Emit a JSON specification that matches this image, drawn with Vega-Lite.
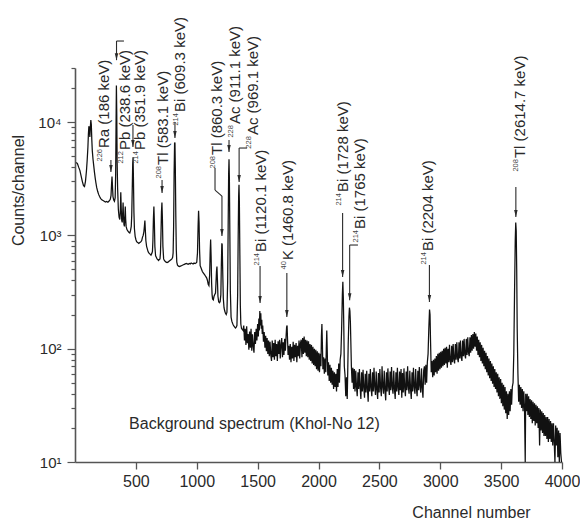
{
  "$schema": "https://vega.github.io/schema/vega-lite/v6.json",
  "autosize": {"type": "none"},
  "padding": {"left": 75, "top": 68, "right": 18, "bottom": 57},
  "width": 487,
  "height": 394,
  "background": "white",
  "config": {
    "view": {"stroke": null},
    "font": "Liberation Sans",
    "text": {"font": "Liberation Sans", "color": "#2a2a2a"}
  },
  "datasets": {
    "spec": [
      {"c":10,"n":4400},{"c":20,"n":4300},{"c":30,"n":4000},{"c":40,"n":3750},{"c":50,"n":3350},{"c":60,"n":3000},{"c":70,"n":2750},{"c":78,"n":2700},{"c":86,"n":3000},{"c":94,"n":3700},{"c":100,"n":4600},{"c":106,"n":6000},{"c":110,"n":7800},{"c":114,"n":9200},{"c":118,"n":8600},{"c":122,"n":7400},{"c":126,"n":9000},{"c":130,"n":10400},{"c":134,"n":9500},{"c":138,"n":7000},{"c":142,"n":5600},{"c":148,"n":4700},{"c":154,"n":4100},{"c":160,"n":3600},{"c":166,"n":3200},{"c":172,"n":2900},{"c":178,"n":2650},{"c":186,"n":2450},{"c":194,"n":2300},{"c":202,"n":2200},{"c":210,"n":2120},{"c":220,"n":2060},{"c":230,"n":2030},{"c":240,"n":2000},{"c":250,"n":1970},{"c":260,"n":1990},{"c":270,"n":1960},{"c":280,"n":2010},{"c":290,"n":2080},{"c":296,"n":2250},{"c":300,"n":2800},{"c":304,"n":3300},{"c":308,"n":2700},{"c":312,"n":2200},{"c":318,"n":2050},{"c":324,"n":2000},{"c":330,"n":2150},{"c":334,"n":3500},{"c":337,"n":9000},{"c":340,"n":21000},{"c":343,"n":12000},{"c":346,"n":4500},{"c":350,"n":2600},{"c":356,"n":1700},{"c":362,"n":1450},{"c":368,"n":1380},{"c":372,"n":1600},{"c":376,"n":2400},{"c":380,"n":1700},{"c":384,"n":1350},{"c":388,"n":1300},{"c":392,"n":1600},{"c":395,"n":1950},{"c":398,"n":1500},{"c":402,"n":1250},{"c":406,"n":1200},{"c":410,"n":1500},{"c":413,"n":1800},{"c":416,"n":1400},{"c":420,"n":1200},{"c":426,"n":1130},{"c":432,"n":1100},{"c":438,"n":1080},{"c":444,"n":1060},{"c":450,"n":1050},{"c":456,"n":1100},{"c":462,"n":1200},{"c":466,"n":1500},{"c":470,"n":2500},{"c":474,"n":4300},{"c":477,"n":4900},{"c":480,"n":3200},{"c":484,"n":1600},{"c":488,"n":1150},{"c":494,"n":980},{"c":500,"n":920},{"c":506,"n":880},{"c":512,"n":870},{"c":518,"n":860},{"c":524,"n":850},{"c":530,"n":860},{"c":536,"n":870},{"c":542,"n":880},{"c":548,"n":900},{"c":554,"n":960},{"c":560,"n":1000},{"c":566,"n":1080},{"c":570,"n":1200},{"c":574,"n":1350},{"c":578,"n":1100},{"c":582,"n":900},{"c":588,"n":800},{"c":594,"n":760},{"c":600,"n":720},{"c":606,"n":700},{"c":612,"n":690},{"c":618,"n":680},{"c":624,"n":670},{"c":630,"n":690},{"c":636,"n":720},{"c":640,"n":900},{"c":644,"n":1400},{"c":648,"n":1800},{"c":652,"n":1300},{"c":656,"n":800},{"c":662,"n":660},{"c":668,"n":640},{"c":674,"n":620},{"c":680,"n":610},{"c":686,"n":600},{"c":692,"n":610},{"c":698,"n":620},{"c":702,"n":700},{"c":706,"n":1000},{"c":710,"n":1600},{"c":714,"n":1950},{"c":718,"n":1400},{"c":722,"n":800},{"c":728,"n":620},{"c":734,"n":600},{"c":740,"n":590},{"c":748,"n":580},{"c":756,"n":575},{"c":764,"n":580},{"c":772,"n":590},{"c":780,"n":600},{"c":788,"n":610},{"c":796,"n":620},{"c":802,"n":640},{"c":806,"n":700},{"c":810,"n":1200},{"c":814,"n":3500},{"c":818,"n":6500},{"c":821,"n":6600},{"c":824,"n":4000},{"c":828,"n":1500},{"c":832,"n":750},{"c":836,"n":580},{"c":842,"n":545},{"c":850,"n":535},{"c":858,"n":530},{"c":866,"n":535},{"c":874,"n":540},{"c":882,"n":545},{"c":890,"n":550},{"c":898,"n":555},{"c":906,"n":560},{"c":914,"n":565},{"c":922,"n":560},{"c":930,"n":555},{"c":938,"n":565},{"c":946,"n":560},{"c":954,"n":570},{"c":962,"n":565},{"c":970,"n":560},{"c":978,"n":570},{"c":986,"n":565},{"c":994,"n":570},{"c":1000,"n":580},{"c":1006,"n":700},{"c":1011,"n":1200},{"c":1015,"n":1650},{"c":1019,"n":1300},{"c":1023,"n":750},{"c":1028,"n":540},{"c":1034,"n":520},{"c":1040,"n":500},{"c":1046,"n":480},{"c":1052,"n":470},{"c":1058,"n":460},{"c":1064,"n":450},{"c":1070,"n":440},{"c":1076,"n":430},{"c":1082,"n":420},{"c":1088,"n":400},{"c":1094,"n":370},{"c":1100,"n":360},{"c":1106,"n":450},{"c":1110,"n":700},{"c":1114,"n":920},{"c":1118,"n":650},{"c":1122,"n":380},{"c":1126,"n":300},{"c":1130,"n":275},{"c":1136,"n":270},{"c":1142,"n":290},{"c":1148,"n":300},{"c":1154,"n":310},{"c":1158,"n":380},{"c":1162,"n":480},{"c":1166,"n":530},{"c":1170,"n":400},{"c":1174,"n":290},{"c":1180,"n":260},{"c":1186,"n":255},{"c":1192,"n":260},{"c":1198,"n":300},{"c":1202,"n":550},{"c":1206,"n":850},{"c":1209,"n":830},{"c":1213,"n":500},{"c":1218,"n":280},{"c":1224,"n":230},{"c":1230,"n":215},{"c":1236,"n":205},{"c":1242,"n":200},{"c":1248,"n":210},{"c":1254,"n":400},{"c":1258,"n":1200},{"c":1262,"n":3500},{"c":1265,"n":4700},{"c":1268,"n":3200},{"c":1272,"n":1000},{"c":1276,"n":320},{"c":1282,"n":190},{"c":1288,"n":175},{"c":1294,"n":168},{"c":1300,"n":162},{"c":1306,"n":158},{"c":1312,"n":155},{"c":1318,"n":152},{"c":1324,"n":155},{"c":1330,"n":160},{"c":1336,"n":300},{"c":1340,"n":900},{"c":1344,"n":2200},{"c":1347,"n":2800},{"c":1350,"n":2000},{"c":1354,"n":700},{"c":1358,"n":240},{"c":1362,"n":165},{"c":1368,"n":150},{"c":1374,"n":148},{"c":1380,"n":145},
      {"c":1386,"n":160},{"c":1392,"n":118},{"c":1398,"n":150},{"c":1404,"n":108},{"c":1410,"n":158},{"c":1416,"n":112},{"c":1422,"n":135},{"c":1428,"n":98},{"c":1434,"n":142},{"c":1440,"n":102},{"c":1446,"n":150},{"c":1452,"n":96},{"c":1458,"n":134},{"c":1464,"n":105},{"c":1470,"n":92},{"c":1476,"n":140},{"c":1482,"n":110},{"c":1488,"n":150},{"c":1494,"n":118},{"c":1500,"n":165},{"c":1506,"n":128},{"c":1510,"n":185},{"c":1514,"n":145},{"c":1518,"n":215},{"c":1522,"n":160},{"c":1526,"n":205},{"c":1530,"n":150},{"c":1534,"n":180},{"c":1538,"n":135},{"c":1542,"n":160},{"c":1548,"n":115},{"c":1554,"n":140},{"c":1560,"n":102},{"c":1566,"n":130},{"c":1572,"n":95},{"c":1578,"n":124},{"c":1584,"n":90},{"c":1590,"n":118},{"c":1596,"n":86},{"c":1602,"n":115},{"c":1608,"n":88},{"c":1614,"n":78},{"c":1620,"n":118},{"c":1626,"n":84},{"c":1632,"n":112},{"c":1638,"n":80},{"c":1644,"n":120},{"c":1650,"n":86},{"c":1656,"n":110},{"c":1662,"n":78},{"c":1668,"n":116},{"c":1674,"n":90},{"c":1680,"n":120},{"c":1686,"n":82},{"c":1692,"n":108},{"c":1698,"n":124},{"c":1704,"n":84},{"c":1710,"n":114},{"c":1716,"n":88},{"c":1722,"n":122},{"c":1728,"n":96},{"c":1734,"n":130},{"c":1738,"n":155},{"c":1742,"n":160},{"c":1746,"n":118},{"c":1750,"n":88},{"c":1756,"n":106},{"c":1762,"n":80},{"c":1768,"n":110},{"c":1774,"n":76},{"c":1780,"n":104},{"c":1786,"n":82},{"c":1792,"n":115},{"c":1798,"n":78},{"c":1804,"n":108},{"c":1810,"n":84},{"c":1816,"n":112},{"c":1822,"n":76},{"c":1828,"n":106},{"c":1834,"n":86},{"c":1840,"n":118},{"c":1846,"n":82},{"c":1852,"n":112},{"c":1858,"n":120},{"c":1864,"n":84},{"c":1870,"n":124},{"c":1876,"n":90},{"c":1882,"n":128},{"c":1888,"n":92},{"c":1894,"n":120},{"c":1900,"n":86},{"c":1906,"n":118},{"c":1912,"n":84},{"c":1918,"n":116},{"c":1924,"n":80},{"c":1930,"n":110},{"c":1936,"n":78},{"c":1942,"n":108},{"c":1948,"n":74},{"c":1954,"n":104},{"c":1960,"n":72},{"c":1966,"n":100},{"c":1972,"n":70},{"c":1978,"n":98},{"c":1984,"n":66},{"c":1990,"n":95},{"c":1996,"n":64},{"c":2002,"n":92},{"c":2008,"n":62},{"c":2014,"n":90},{"c":2020,"n":70},{"c":2024,"n":130},{"c":2028,"n":165},{"c":2032,"n":110},{"c":2036,"n":66},{"c":2042,"n":84},{"c":2048,"n":60},{"c":2054,"n":82},{"c":2060,"n":62},{"c":2064,"n":100},{"c":2068,"n":145},{"c":2072,"n":95},{"c":2076,"n":58},{"c":2082,"n":76},{"c":2088,"n":52},{"c":2094,"n":72},{"c":2100,"n":50},{"c":2106,"n":68},{"c":2112,"n":48},{"c":2118,"n":64},{"c":2124,"n":44},{"c":2130,"n":62},{"c":2136,"n":46},{"c":2142,"n":60},{"c":2148,"n":42},{"c":2154,"n":66},{"c":2160,"n":46},{"c":2166,"n":74},{"c":2172,"n":50},{"c":2178,"n":80},{"c":2184,"n":90},{"c":2190,"n":150},{"c":2196,"n":300},{"c":2200,"n":390},{"c":2204,"n":280},{"c":2208,"n":150},{"c":2212,"n":70},{"c":2218,"n":58},{"c":2224,"n":38},{"c":2230,"n":56},{"c":2236,"n":36},{"c":2240,"n":62},{"c":2244,"n":110},{"c":2250,"n":190},{"c":2254,"n":230},{"c":2258,"n":215},{"c":2262,"n":170},{"c":2266,"n":110},{"c":2270,"n":70},{"c":2276,"n":50},{"c":2282,"n":68},{"c":2288,"n":44},{"c":2294,"n":66},{"c":2300,"n":42},{"c":2306,"n":64},{"c":2312,"n":46},{"c":2318,"n":38},{"c":2324,"n":62},{"c":2330,"n":44},{"c":2336,"n":66},{"c":2342,"n":46},{"c":2348,"n":36},{"c":2354,"n":62},{"c":2360,"n":42},{"c":2366,"n":65},{"c":2372,"n":45},{"c":2378,"n":37},{"c":2384,"n":60},{"c":2390,"n":41},{"c":2396,"n":64},{"c":2402,"n":44},{"c":2408,"n":34},{"c":2414,"n":60},{"c":2420,"n":42},{"c":2426,"n":66},{"c":2432,"n":45},{"c":2438,"n":38},{"c":2444,"n":62},{"c":2450,"n":42},{"c":2456,"n":68},{"c":2462,"n":46},{"c":2468,"n":39},{"c":2474,"n":63},{"c":2480,"n":43},{"c":2486,"n":36},{"c":2492,"n":61},{"c":2498,"n":41},{"c":2504,"n":66},{"c":2510,"n":45},{"c":2516,"n":38},{"c":2522,"n":70},{"c":2528,"n":46},{"c":2534,"n":40},{"c":2540,"n":64},{"c":2546,"n":43},{"c":2552,"n":35},{"c":2558,"n":62},{"c":2564,"n":42},{"c":2570,"n":67},{"c":2576,"n":46},{"c":2582,"n":39},{"c":2588,"n":63},{"c":2594,"n":43},{"c":2600,"n":69},{"c":2606,"n":46},{"c":2612,"n":40},{"c":2618,"n":64},{"c":2624,"n":44},{"c":2630,"n":36},{"c":2636,"n":62},{"c":2642,"n":42},{"c":2648,"n":68},{"c":2654,"n":45},{"c":2660,"n":39},{"c":2666,"n":63},{"c":2672,"n":43},{"c":2678,"n":66},{"c":2684,"n":37},{"c":2690,"n":61},{"c":2696,"n":41},{"c":2702,"n":67},{"c":2708,"n":45},{"c":2714,"n":38},{"c":2720,"n":63},{"c":2726,"n":43},{"c":2732,"n":70},{"c":2738,"n":46},{"c":2744,"n":40},{"c":2750,"n":64},{"c":2756,"n":44},{"c":2762,"n":36},{"c":2768,"n":62},{"c":2774,"n":42},{"c":2780,"n":68},{"c":2786,"n":46},{"c":2792,"n":40},{"c":2798,"n":66},{"c":2804,"n":45},{"c":2810,"n":38},{"c":2816,"n":64},{"c":2822,"n":43},{"c":2828,"n":69},{"c":2834,"n":47},{"c":2840,"n":41},{"c":2846,"n":67},{"c":2852,"n":45},{"c":2858,"n":37},{"c":2864,"n":64},{"c":2870,"n":70},{"c":2876,"n":48},{"c":2882,"n":72},{"c":2888,"n":50},{"c":2894,"n":76},{"c":2900,"n":90},{"c":2906,"n":150},{"c":2912,"n":222},{"c":2916,"n":200},{"c":2920,"n":120},{"c":2926,"n":62},{"c":2932,"n":78},{"c":2938,"n":56},{"c":2944,"n":80},{"c":2950,"n":58},{"c":2956,"n":82},{"c":2962,"n":62},{"c":2968,"n":86},{"c":2974,"n":60},{"c":2980,"n":90},{"c":2986,"n":64},{"c":2992,"n":92},{"c":2998,"n":66},{"c":3004,"n":94},{"c":3010,"n":68},{"c":3016,"n":96},{"c":3022,"n":70},{"c":3028,"n":100},{"c":3034,"n":72},{"c":3040,"n":102},{"c":3046,"n":74},{"c":3052,"n":104},{"c":3058,"n":68},{"c":3064,"n":100},{"c":3070,"n":76},{"c":3076,"n":108},{"c":3082,"n":78},{"c":3088,"n":72},{"c":3094,"n":106},{"c":3100,"n":76},{"c":3106,"n":110},{"c":3112,"n":80},{"c":3118,"n":74},{"c":3124,"n":110},{"c":3130,"n":80},{"c":3136,"n":114},{"c":3142,"n":82},{"c":3148,"n":76},{"c":3154,"n":114},{"c":3160,"n":82},{"c":3166,"n":118},{"c":3172,"n":84},{"c":3178,"n":78},{"c":3184,"n":118},{"c":3190,"n":86},{"c":3196,"n":122},{"c":3202,"n":88},{"c":3208,"n":82},{"c":3214,"n":122},{"c":3220,"n":88},{"c":3226,"n":126},{"c":3232,"n":92},{"c":3238,"n":86},{"c":3244,"n":126},{"c":3250,"n":92},{"c":3256,"n":132},{"c":3262,"n":96},{"c":3268,"n":135},{"c":3274,"n":100},{"c":3280,"n":140},{"c":3286,"n":104},{"c":3292,"n":136},{"c":3298,"n":96},{"c":3304,"n":128},{"c":3310,"n":88},{"c":3316,"n":120},{"c":3322,"n":84},{"c":3328,"n":114},{"c":3334,"n":78},{"c":3340,"n":108},{"c":3346,"n":74},{"c":3352,"n":102},{"c":3358,"n":70},{"c":3364,"n":96},{"c":3370,"n":66},{"c":3376,"n":92},{"c":3382,"n":62},{"c":3388,"n":86},{"c":3394,"n":58},{"c":3400,"n":82},{"c":3406,"n":55},{"c":3412,"n":78},{"c":3418,"n":52},{"c":3424,"n":74},{"c":3430,"n":49},{"c":3436,"n":70},{"c":3442,"n":46},{"c":3448,"n":66},{"c":3454,"n":44},{"c":3460,"n":62},{"c":3466,"n":41},{"c":3472,"n":60},{"c":3478,"n":38},{"c":3484,"n":56},{"c":3490,"n":36},{"c":3496,"n":54},{"c":3502,"n":33},{"c":3508,"n":50},{"c":3514,"n":31},{"c":3520,"n":48},{"c":3526,"n":29},{"c":3532,"n":46},{"c":3538,"n":27},{"c":3544,"n":42},{"c":3550,"n":24},{"c":3556,"n":40},{"c":3562,"n":26},{"c":3568,"n":42},{"c":3574,"n":28},{"c":3580,"n":44},{"c":3586,"n":32},{"c":3592,"n":46},{"c":3598,"n":50},{"c":3604,"n":90},{"c":3610,"n":300},{"c":3616,"n":900},{"c":3620,"n":1300},{"c":3624,"n":1100},{"c":3628,"n":500},{"c":3632,"n":150},{"c":3638,"n":60},{"c":3644,"n":34},{"c":3650,"n":48},{"c":3656,"n":32},{"c":3662,"n":46},{"c":3668,"n":30},{"c":3674,"n":44},{"c":3680,"n":28},{"c":3686,"n":42},{"c":3692,"n":30},{"c":3698,"n":10},{"c":3702,"n":40},{"c":3708,"n":28},{"c":3714,"n":40},{"c":3720,"n":26},{"c":3726,"n":38},{"c":3732,"n":25},{"c":3738,"n":36},{"c":3744,"n":24},{"c":3750,"n":35},{"c":3756,"n":22},{"c":3762,"n":34},{"c":3768,"n":23},{"c":3774,"n":33},{"c":3780,"n":21},{"c":3786,"n":32},{"c":3792,"n":22},{"c":3798,"n":31},{"c":3804,"n":20},{"c":3810,"n":30},{"c":3816,"n":14},{"c":3822,"n":29},{"c":3828,"n":19},{"c":3834,"n":28},{"c":3840,"n":18},{"c":3846,"n":27},{"c":3852,"n":17},{"c":3858,"n":26},{"c":3864,"n":17},{"c":3870,"n":25},{"c":3876,"n":16},{"c":3882,"n":25},{"c":3888,"n":15},{"c":3894,"n":24},{"c":3900,"n":16},{"c":3906,"n":23},{"c":3912,"n":15},{"c":3918,"n":22},{"c":3924,"n":14},{"c":3930,"n":22},{"c":3936,"n":15},{"c":3942,"n":10},{"c":3948,"n":21},{"c":3954,"n":14},{"c":3960,"n":20},{"c":3966,"n":11},{"c":3972,"n":19},{"c":3978,"n":10},{"c":3984,"n":18},{"c":3990,"n":12},{"c":3996,"n":10}
    ],
    "labels": [
      {"c":238,"n":5900,"iso":"226","el":"Ra (186 keV)"},
      {"c":411,"n":5660,"iso":"212","el":"Pb (238.6 keV)"},
      {"c":534,"n":5660,"iso":"214","el":"Pb (351.9 keV)"},
      {"c":723,"n":4180,"iso":"208","el":"Tl (583.1 keV)"},
      {"c":862,"n":12250,"iso":"214","el":"Bi (609.3 keV)"},
      {"c":1166,"n":5120,"iso":"208","el":"Tl (860.3 keV)"},
      {"c":1314,"n":9600,"iso":"228","el":"Ac (911.1 keV)"},
      {"c":1462,"n":7670,"iso":"228","el":"Ac (969.1 keV)"},
      {"c":1528,"n":713,"iso":"214","el":"Bi (1120.1 keV)"},
      {"c":1750,"n":605,"iso":"40","el":"K (1460.8 keV)"},
      {"c":2201,"n":2410,"iso":"214","el":"Bi (1728 keV)"},
      {"c":2341,"n":1138,"iso":"214","el":"Bi (1765 keV)"},
      {"c":2899,"n":727,"iso":"214","el":"Bi (2204 keV)"},
      {"c":3655,"n":4810,"iso":"208","el":"Tl (2614.7 keV)"}
    ],
    "segs": [
      {"c":295,"n":4620,"c2":295,"n2":3620},
      {"c":402,"n":51900,"c2":341,"n2":51900},
      {"c":341,"n":51900,"c2":341,"n2":35200},
      {"c":476,"n":9420,"c2":476,"n2":6010},
      {"c":715,"n":3080,"c2":715,"n2":2370},
      {"c":821,"n":10000,"c2":821,"n2":7230},
      {"c":1150,"n":3930,"c2":1150,"n2":2512},
      {"c":1150,"n":2512,"c2":1207,"n2":2222},
      {"c":1207,"n":2222,"c2":1207,"n2":986},
      {"c":1265,"n":6940,"c2":1265,"n2":5430},
      {"c":1413,"n":5900,"c2":1348,"n2":5900},
      {"c":1348,"n":5900,"c2":1348,"n2":2960},
      {"c":1520,"n":536,"c2":1520,"n2":253},
      {"c":1740,"n":466,"c2":1740,"n2":190},
      {"c":2198,"n":1574,"c2":2198,"n2":429},
      {"c":2324,"n":822,"c2":2256,"n2":822},
      {"c":2256,"n":822,"c2":2256,"n2":268},
      {"c":2911,"n":547,"c2":2911,"n2":258},
      {"c":3621,"n":2670,"c2":3621,"n2":1452}
    ],
    "tips": [
      {"c":295,"n":3620},{"c":341,"n":35200},{"c":476,"n":6010},{"c":715,"n":2370},
      {"c":821,"n":7230},{"c":1207,"n":986},{"c":1265,"n":5430},{"c":1348,"n":2960},
      {"c":1520,"n":253},{"c":1740,"n":190},{"c":2198,"n":429},{"c":2256,"n":268},
      {"c":2911,"n":258},{"c":3621,"n":1452}
    ],
    "note": [{"c":1474,"n":21.6,"t":"Background spectrum (Khol-No 12)"}]
  },
  "encoding": {
    "x": {
      "field": "c", "type": "quantitative",
      "scale": {"domain": [0, 4000], "nice": false, "zero": false},
      "axis": {
        "values": [500, 1000, 1500, 2000, 2500, 3000, 3500, 4000],
        "format": "d",
        "grid": false,
        "domainColor": "#555", "domainWidth": 1.6,
        "tickColor": "#555", "tickWidth": 1.3, "tickSize": 7,
        "labelFont": "Liberation Sans", "labelFontSize": 16, "labelColor": "#2a2a2a", "labelPadding": 4,
        "labelFlush": false,
        "title": "Channel number",
        "titleFont": "Liberation Sans", "titleFontSize": 16, "titleFontWeight": "normal", "titleColor": "#2a2a2a",
        "titleX": 396, "titleY": 50, "titleAlign": "center", "titleBaseline": "middle"
      }
    },
    "y": {
      "field": "n", "type": "quantitative",
      "scale": {"type": "log", "domain": [10, 30000], "nice": false},
      "axis": {
        "values": [10,20,30,40,50,60,70,80,90,100,200,300,400,500,600,700,800,900,1000,2000,3000,4000,5000,6000,7000,8000,9000,10000,20000,30000],
        "labelExpr": "datum.value == 10 ? '10¹' : datum.value == 100 ? '10²' : datum.value == 1000 ? '10³' : datum.value == 10000 ? '10⁴' : ''",
        "grid": false,
        "domainColor": "#555", "domainWidth": 1.6,
        "tickColor": "#555", "tickWidth": 1.2,
        "tickSize": {"condition": {"test": "datum.value == 10 || datum.value == 100 || datum.value == 1000 || datum.value == 10000", "value": 8}, "value": 4},
        "labelFont": "Liberation Sans", "labelFontSize": 15, "labelColor": "#2a2a2a", "labelPadding": 6,
        "title": "Counts/channel",
        "titleFont": "Liberation Sans", "titleFontSize": 16, "titleFontWeight": "normal", "titleColor": "#2a2a2a",
        "titleX": -57, "titleY": 122, "titleAngle": 270, "titleAlign": "center", "titleBaseline": "middle"
      }
    }
  },
  "layer": [
    {
      "data": {"name": "spec"},
      "mark": {"type": "line", "color": "#111111", "strokeWidth": 1.25}
    },
    {
      "data": {"name": "segs"},
      "mark": {"type": "rule", "color": "#2a2a2a", "strokeWidth": 1.1},
      "encoding": {
        "x2": {"field": "c2"},
        "y2": {"field": "n2"}
      }
    },
    {
      "data": {"name": "tips"},
      "mark": {"type": "point", "shape": "M-0.7,-2.8L0.7,-2.8L0,0Z", "filled": true, "size": 25, "color": "#2a2a2a", "opacity": 1}
    },
    {
      "data": {"name": "labels"},
      "mark": {"type": "text", "angle": 270, "align": "left", "baseline": "middle", "fontSize": 15, "font": "Liberation Sans", "color": "#2a2a2a"},
      "encoding": {"text": {"field": "el"}}
    },
    {
      "data": {"name": "labels"},
      "mark": {"type": "text", "angle": 270, "align": "right", "baseline": "middle", "fontSize": 7.5, "dx": -1, "dy": -4, "font": "Liberation Sans", "color": "#444444"},
      "encoding": {"text": {"field": "iso"}}
    },
    {
      "data": {"name": "note"},
      "mark": {"type": "text", "align": "center", "baseline": "middle", "fontSize": 16, "font": "Liberation Sans", "color": "#2a2a2a"},
      "encoding": {"text": {"field": "t"}}
    }
  ]
}
